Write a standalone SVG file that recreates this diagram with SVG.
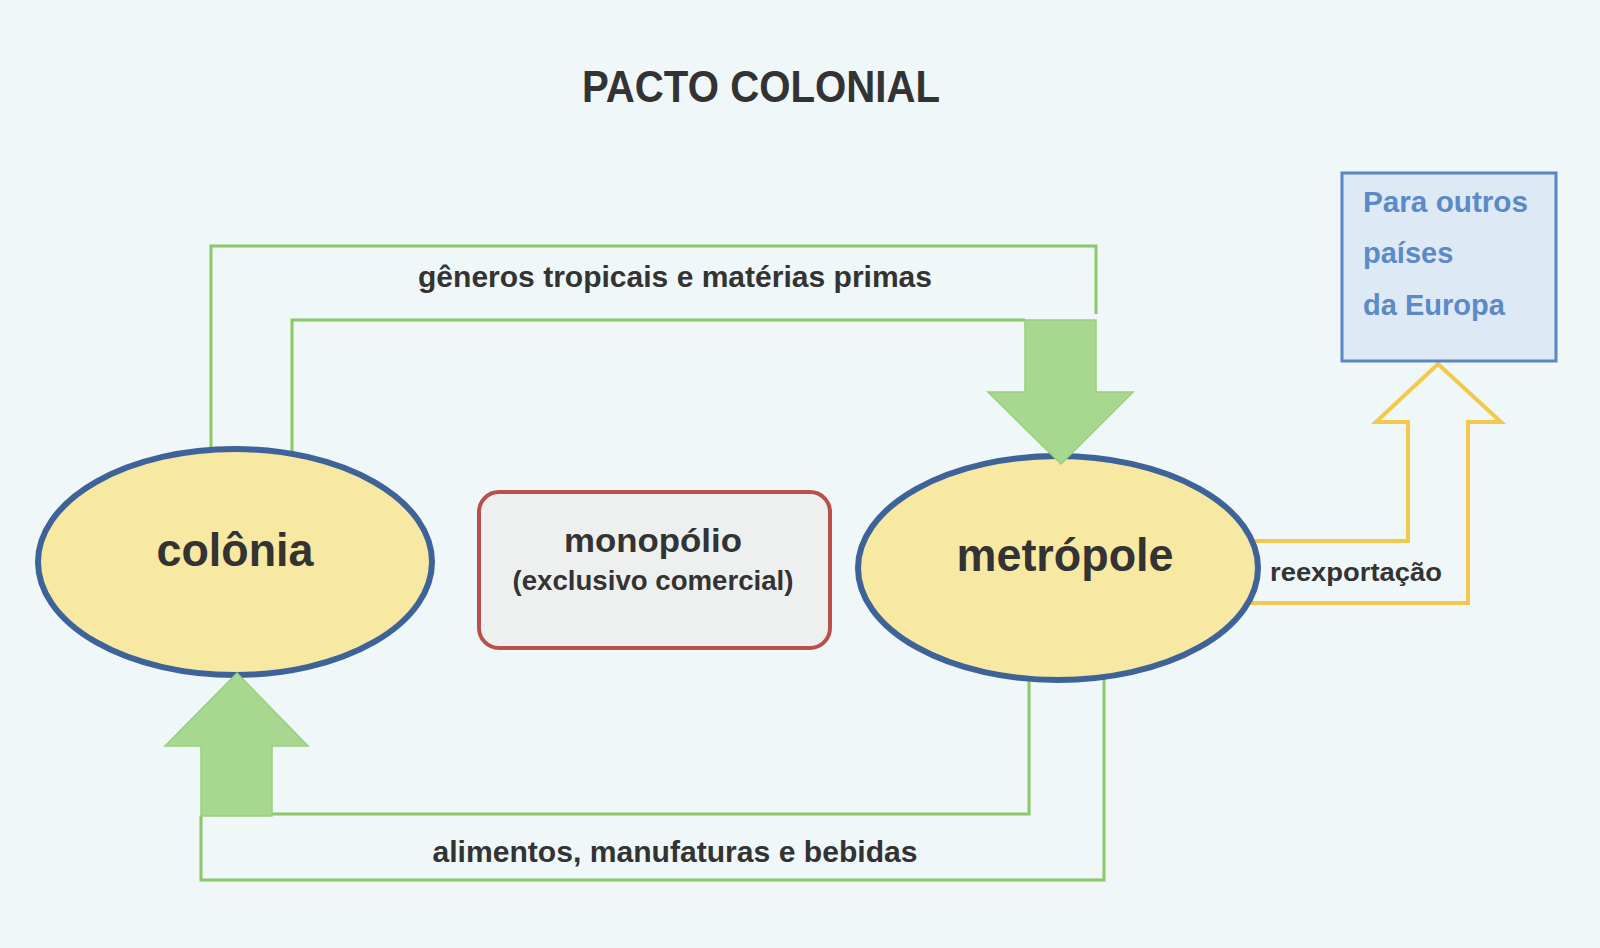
<svg xmlns="http://www.w3.org/2000/svg" width="1600" height="948" viewBox="0 0 1600 948">
<style>
.lbl{font-family:"Liberation Sans",Arial,sans-serif;font-weight:bold;fill:#333333}
.line{fill:none;stroke:#8cc868;stroke-width:3}
.garrow{fill:#a8d890;stroke:#98cf7c;stroke-width:1.5}
.yline{fill:none;stroke:#f2c94c;stroke-width:4;stroke-linejoin:miter}
.ell{fill:#f7e8a2;stroke:#3e6399;stroke-width:6}
</style>
<rect width="1600" height="948" fill="#eff7f8"/>
<text class="lbl" x="761" y="102" font-size="44" text-anchor="middle" textLength="358" lengthAdjust="spacingAndGlyphs">PACTO COLONIAL</text>
<g id="connectors">
<polyline class="line" points="211,452 211,246 1096,246 1096,314"/>
<polyline class="line" points="292,460 292,320 1025,320"/>
<polyline class="line" points="272,814 1029,814 1029,672"/>
<polyline class="line" points="201,816 201,880 1104,880 1104,670"/>
<path class="yline" d="M1245,541 H1408 V422 H1376 L1438,364 L1501,422 H1468 V603 H1245"/>
</g>
<g id="colonia">
<ellipse class="ell" cx="235" cy="562" rx="197" ry="113"/>
<text class="lbl" x="235" y="566" font-size="46" text-anchor="middle" textLength="157" lengthAdjust="spacingAndGlyphs">colônia</text>
</g>
<g id="metropole">
<ellipse class="ell" cx="1058" cy="568" rx="200" ry="112"/>
<text class="lbl" x="1065" y="571" font-size="46" text-anchor="middle" textLength="217" lengthAdjust="spacingAndGlyphs">metrópole</text>
</g>
<g id="monopolio">
<rect x="479" y="492" width="351" height="156" rx="20" fill="#eef0f0" stroke="#b9504c" stroke-width="4"/>
<text class="lbl" x="653" y="552" font-size="34" text-anchor="middle" textLength="178" lengthAdjust="spacingAndGlyphs">monopólio</text>
<text class="lbl" x="653" y="590" font-size="27" text-anchor="middle" textLength="281" lengthAdjust="spacingAndGlyphs">(exclusivo comercial)</text>
</g>
<g id="europa">
<rect x="1342" y="173" width="214" height="188" fill="#dde9f5" stroke="#5a86c2" stroke-width="3"/>
<text class="lbl" x="1363" y="212" font-size="29" style="fill:#5b8ac6" textLength="165" lengthAdjust="spacingAndGlyphs">Para outros</text>
<text class="lbl" x="1363" y="263" font-size="29" style="fill:#5b8ac6">países</text>
<text class="lbl" x="1363" y="315" font-size="29" style="fill:#5b8ac6">da Europa</text>
</g>
<g id="arrows">
<polygon class="garrow" points="1025,320 1096,320 1096,392 1133,392 1061,464 988,392 1025,392"/>
<polygon class="garrow" points="237,673 308,746 272,746 272,816 201,816 201,746 165,746"/>
</g>
<g id="labels">
<text class="lbl" x="675" y="287" font-size="30" text-anchor="middle" textLength="514" lengthAdjust="spacingAndGlyphs">gêneros tropicais e matérias primas</text>
<text class="lbl" x="675" y="862" font-size="30" text-anchor="middle" textLength="485" lengthAdjust="spacingAndGlyphs">alimentos, manufaturas e bebidas</text>
<text class="lbl" x="1270" y="581" font-size="26" textLength="172" lengthAdjust="spacingAndGlyphs">reexportação</text>
</g>
</svg>
